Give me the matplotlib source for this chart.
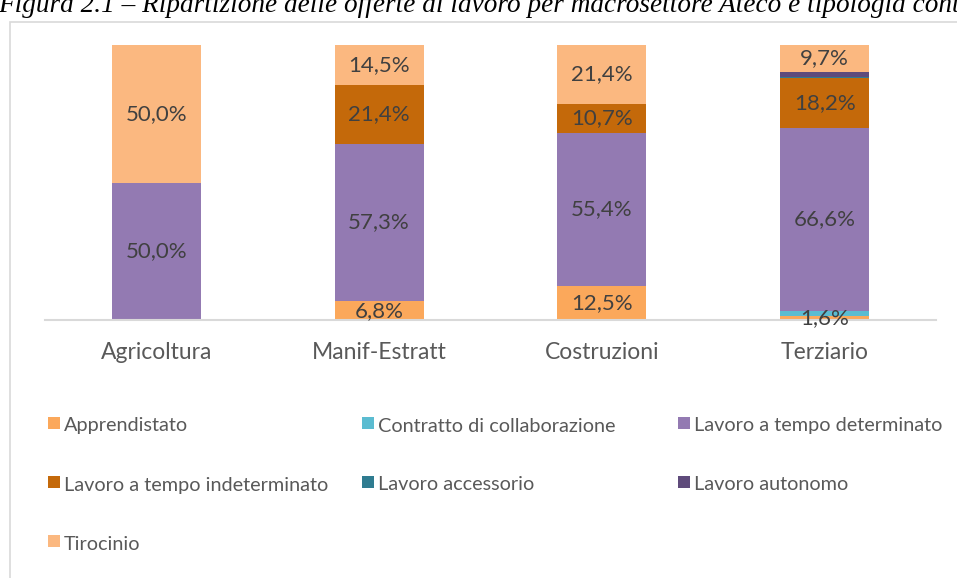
import matplotlib
matplotlib.use("Agg")
from matplotlib import pyplot as plt
from matplotlib.patches import Rectangle

# data (percent of job offers per macro sector)
categories = ["Agricoltura", "Manif-Estratt", "Costruzioni", "Terziario"]
series_names = [
    "Apprendistato",
    "Contratto di collaborazione",
    "Lavoro a tempo determinato",
    "Lavoro a tempo indeterminato",
    "Lavoro accessorio",
    "Lavoro autonomo",
    "Tirocinio",
]
apprendistato = [0.0, 6.8, 12.5, 1.6]
collaborazione = [0.0, 0.0, 0.0, 1.7]
tempo_determinato = [50.0, 57.3, 55.4, 66.6]
tempo_indeterminato = [0.0, 21.4, 10.7, 18.2]
accessorio = [0.0, 0.0, 0.0, 0.3]
autonomo = [0.0, 0.0, 0.0, 1.9]
tirocinio = [50.0, 14.5, 21.4, 9.7]

series_values = [apprendistato, collaborazione, tempo_determinato,
                 tempo_indeterminato, accessorio, autonomo, tirocinio]
colors = ["#FBA85B", "#5BBCD1", "#937AB2", "#C4690A", "#2F7C90", "#5F4B7B", "#FBB880"]
show_labels = [True, False, True, True, False, False, True]

FONT = "Lato"
TEXT_COLOR = "#595959"
LABEL_COLOR = "#404040"

W, H = 957, 578
fig = plt.figure(figsize=(W / 100, H / 100), dpi=100)

# outer frame of the chart object (cut by the image edges)
fig.patches.append(Rectangle((10 / W, -0.1), 1.2, 1.1 - 22 / H, transform=fig.transFigure,
                             fill=False, edgecolor="#D9D9D9", linewidth=1.2))

# title, partly cut off at the top
fig.text(-0.002, 1 - 12 / H,
         "Figura 2.1 \u2013 Ripartizione delle offerte di lavoro per macrosettore Ateco e tipologia contratto",
         family="Liberation Serif", style="italic", fontsize=19.6, color="black", va="baseline")

ax = fig.add_axes([45 / W, 1 - 320 / H, 891 / W, 275 / H])

x = range(len(categories))
bottoms = [0.0] * len(categories)
for name, vals, col, lab in zip(series_names, series_values, colors, show_labels):
    bars = ax.bar(x, vals, width=0.4, bottom=bottoms, color=col, label=name, linewidth=0)
    if lab:
        for b, v, bot in zip(bars, vals, bottoms):
            if v > 0:
                ax.text(b.get_x() + b.get_width() / 2, bot + v / 2,
                        f"{v:.1f}%".replace(".", ","), ha="center", va="center",
                        family=FONT, fontsize=16, color=LABEL_COLOR)
    bottoms = [b + v for b, v in zip(bottoms, vals)]

ax.set_xlim(-0.5, len(categories) - 0.5)
ax.set_ylim(0, 100)
ax.set_yticks([])
ax.set_xticks(list(x))
ax.set_xticklabels(categories, family=FONT, fontsize=16.5, color=TEXT_COLOR)
ax.tick_params(axis="x", length=0, pad=16)
for side in ["top", "left", "right"]:
    ax.spines[side].set_visible(False)
ax.spines["bottom"].set_color("#D9D9D9")
ax.spines["bottom"].set_linewidth(1.5)
ax.set_facecolor("none")

# legend laid out in three columns like the original
legend_cols = [48, 362, 678]
legend_rows = [426, 485, 544]
for i, (name, col) in enumerate(zip(series_names, colors)):
    lx = legend_cols[i % 3]
    ly = legend_rows[i // 3]
    fig.patches.append(Rectangle((lx / W, 1 - (ly + 3) / H), 12 / W, 12 / H,
                                 transform=fig.transFigure, facecolor=col, edgecolor="none"))
    fig.text((lx + 16) / W, 1 - ly / H, name, family=FONT, fontsize=14.3,
             color=TEXT_COLOR, va="center")

fig.savefig("out.png", dpi=100)
